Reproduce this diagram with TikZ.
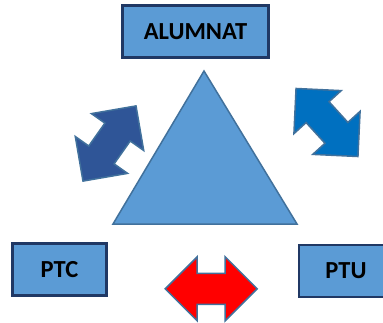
\documentclass[tikz,border=0pt]{standalone}
\usepackage{fontspec}
\setmainfont{Carlito}
\definecolor{boxfill}{HTML}{5B9BD5}
\definecolor{boxline}{HTML}{203864}
\definecolor{shapeline}{HTML}{41719C}
\definecolor{darkarrow}{HTML}{2F5597}
\definecolor{lightarrow}{HTML}{0070C0}
\definecolor{redarrow}{HTML}{FF0000}
\tikzset{
  groupbox/.style={draw=boxline, line width=2.4pt, fill=boxfill, inner sep=0pt,
    minimum height=52pt, font=\fontsize{24.5}{28}\selectfont\bfseries},
}
\begin{document}
\begin{tikzpicture}[x=1pt,y=1pt]
			\useasboundingbox (0,0) rectangle (383,322);
			\node[groupbox, minimum width=146pt] (alumnat) at (195.5,290.5) {ALUMNAT};
			\node[groupbox, minimum width=94pt]  (ptc)     at (59.5,52.5)   {PTC};
			\node[groupbox, minimum width=94pt]  (ptu)     at (346,51)      {PTU};
			%
			\coordinate (apex)  at (204,251);
			\coordinate (baseL) at (113,98);
			\coordinate (baseR) at (297,98);
			\draw[shapeline, line width=1.5pt, fill=boxfill, line join=miter] (apex) -- (baseL) -- (baseR) -- cycle;
			%
			\def\arrows {109.5/178.5/54.8/darkarrow, 327/199.5/-47.7/lightarrow, 211.2/33.2/0/redarrow}  % x/y/angle/fill
			\foreach \x\y\angle\col in \arrows
			{	\draw[shift={(\x,\y)}, rotate=\angle, draw=shapeline, line width=1.5pt, fill=\col, line join=miter]
					(-46,0) -- (-14,32) -- (-14,15.5) -- (14,15.5) -- (14,32) -- (46,0)
					-- (14,-32) -- (14,-15.5) -- (-14,-15.5) -- (-14,-32) -- cycle;
			}
			%
\end{tikzpicture}
\end{document}
